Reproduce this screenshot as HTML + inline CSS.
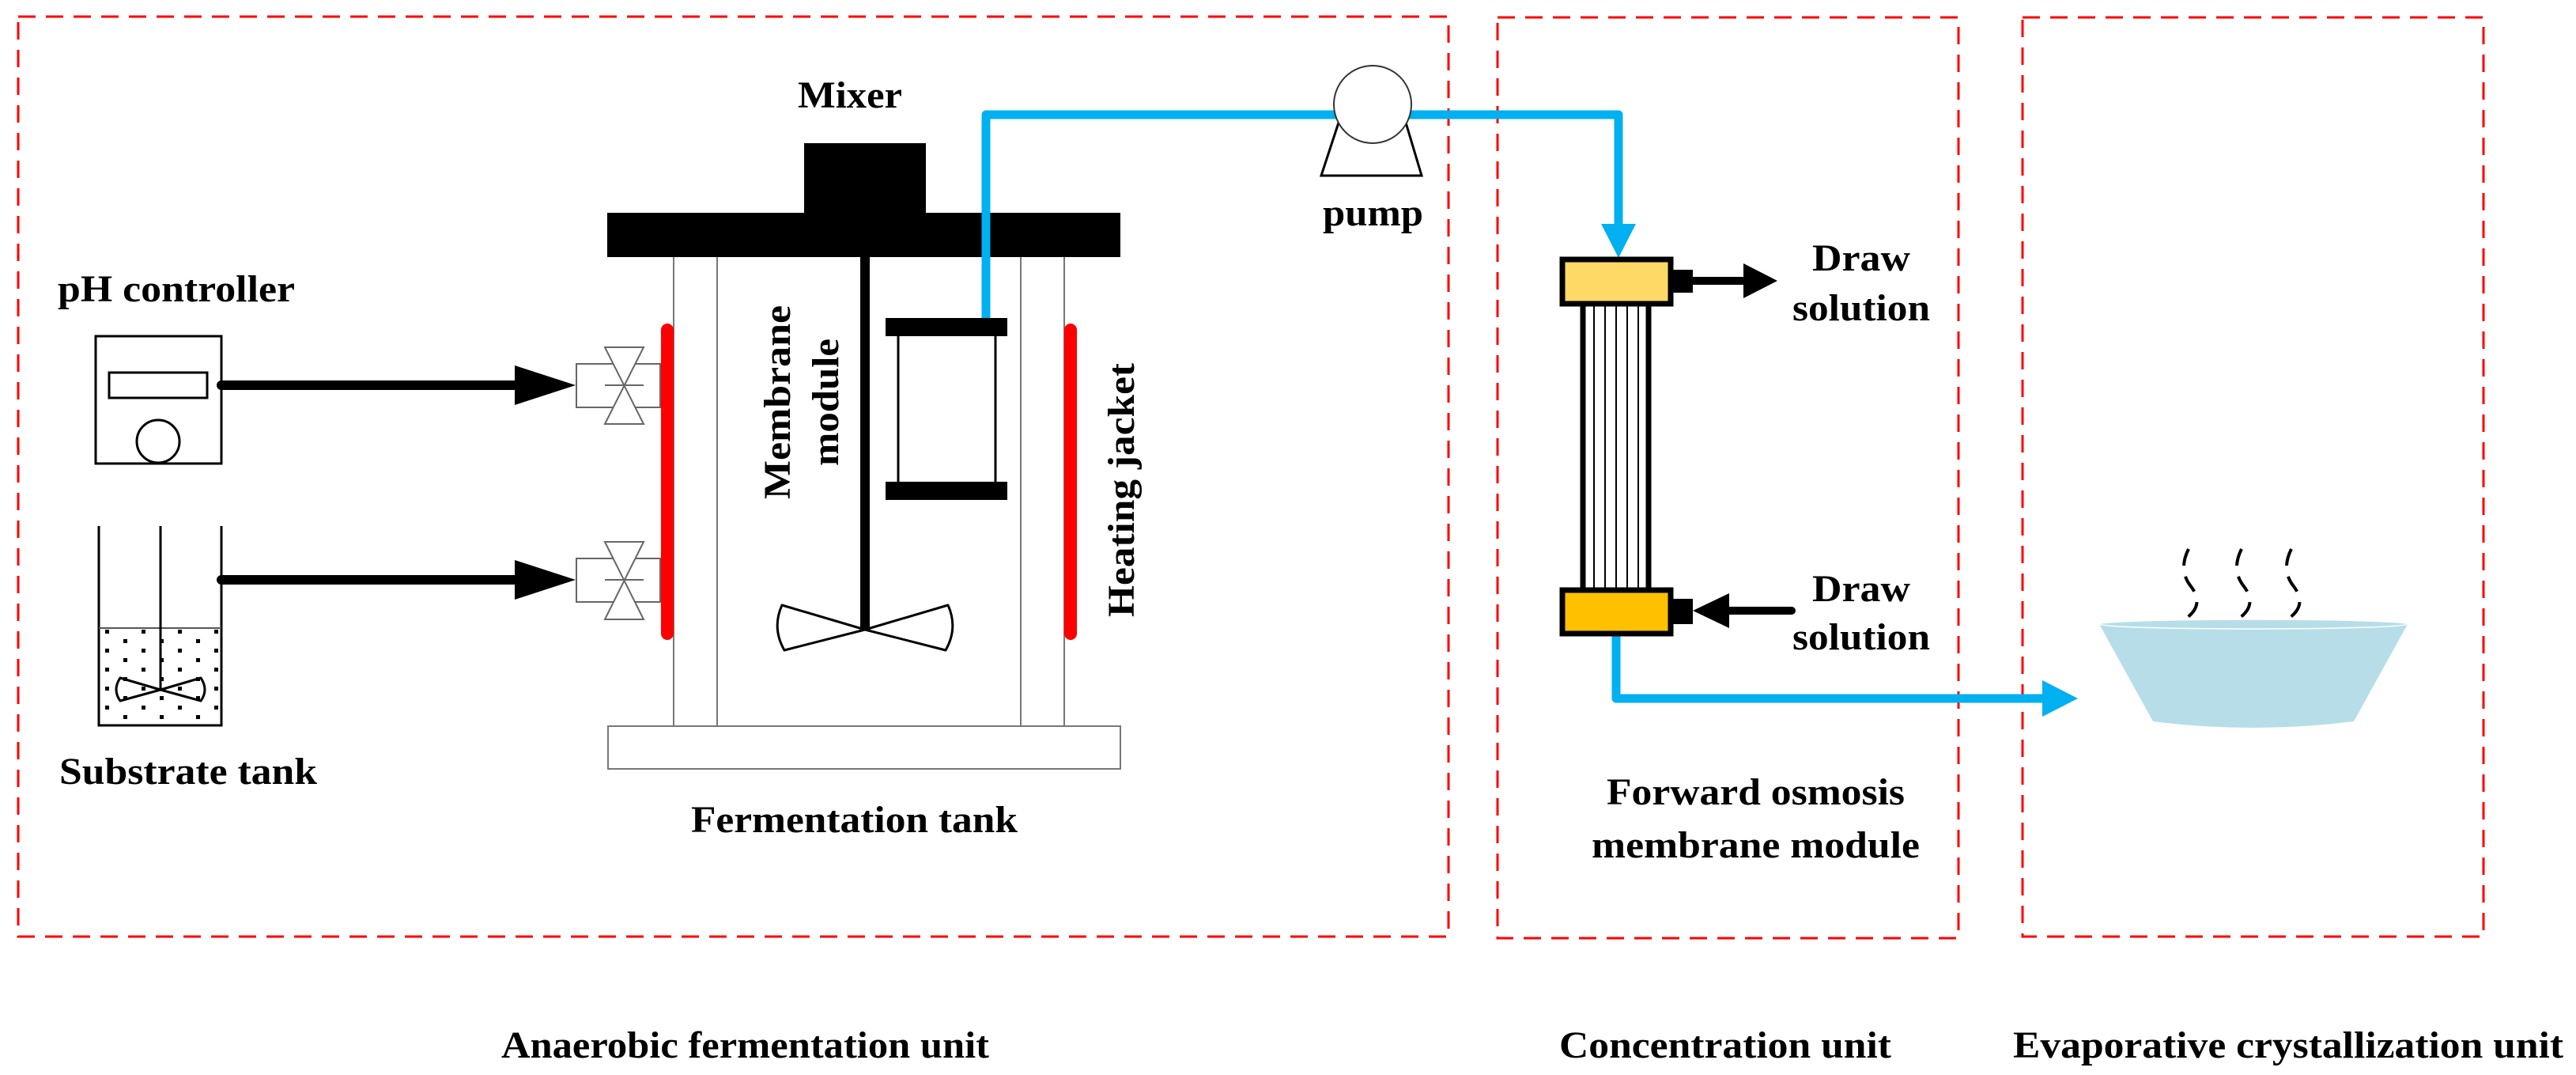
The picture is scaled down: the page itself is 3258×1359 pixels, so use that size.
<!DOCTYPE html>
<html><head><meta charset="utf-8"><style>html,body{margin:0;padding:0;background:#fff}svg{display:block}</style></head><body>
<svg width="3258" height="1359" viewBox="0 0 3258 1359" xmlns="http://www.w3.org/2000/svg" font-family="'Liberation Serif', serif" font-weight="bold">
<defs>
<pattern id="dots" x="125" y="794" width="46" height="24" patternUnits="userSpaceOnUse">
<rect x="8" y="2" width="5" height="5" fill="#000"/><rect x="31" y="14" width="5" height="5" fill="#000"/>
</pattern>
</defs>
<g fill="none" stroke="#FF0000" stroke-width="3" stroke-dasharray="22,13">
<rect x="23" y="21" width="1809" height="1163"/>
<rect x="1894" y="22" width="583" height="1164"/>
<rect x="2558" y="22" width="583" height="1162"/>
</g>
<!-- pH controller -->
<rect x="121" y="425" width="159" height="161" fill="none" stroke="#000" stroke-width="3"/>
<rect x="138" y="471" width="124" height="32" fill="none" stroke="#000" stroke-width="3"/>
<ellipse cx="200" cy="558" rx="27" ry="27" fill="none" stroke="#000" stroke-width="3"/>
<!-- substrate tank -->
<rect x="125" y="794" width="155" height="123" fill="url(#dots)"/>
<path d="M125 665 V917 H280 V665" fill="none" stroke="#000" stroke-width="3"/>
<line x1="125" y1="794" x2="280" y2="794" stroke="#555" stroke-width="2"/>
<line x1="203" y1="665" x2="203" y2="872" stroke="#000" stroke-width="3"/>
<path d="M203 872 L152 886 Q142 872 152 857 Z M203 872 L254 886 Q264 872 254 857 Z" fill="none" stroke="#000" stroke-width="3" stroke-linejoin="round"/>
<!-- arrows -->
<g fill="#000">
<line x1="280" y1="487" x2="660" y2="487" stroke="#000" stroke-width="12" stroke-linecap="round"/>
<polygon points="651,462 728,487 651,512"/>
<line x1="280" y1="733" x2="660" y2="733" stroke="#000" stroke-width="12" stroke-linecap="round"/>
<polygon points="651,708 728,733 651,758"/>
</g>
<!-- valves -->
<g fill="#fff" stroke="#666" stroke-width="2">
<rect x="729" y="460" width="106" height="55"/>
<polygon points="765,439 814,439 765,536 814,536"/>
<line x1="765" y1="487" x2="814" y2="487"/>
<rect x="729" y="706" width="106" height="55"/>
<polygon points="765,685 814,685 765,783 814,783"/>
<line x1="765" y1="733" x2="814" y2="733"/>
</g>
<!-- fermentation tank -->
<g fill="none" stroke="#777" stroke-width="2">
<line x1="852" y1="325" x2="852" y2="917"/>
<line x1="907" y1="325" x2="907" y2="917"/>
<line x1="1291" y1="325" x2="1291" y2="917"/>
<line x1="1346" y1="325" x2="1346" y2="917"/>
<rect x="769" y="918" width="648" height="54"/>
</g>
<rect x="836" y="409" width="16" height="400" rx="8" fill="#FF0000"/>
<rect x="1346" y="409" width="16" height="400" rx="8" fill="#FF0000"/>
<rect x="768" y="269" width="649" height="56" fill="#000"/>
<rect x="1017" y="181" width="154" height="90" fill="#000"/>
<line x1="1094" y1="325" x2="1094" y2="796" stroke="#000" stroke-width="12"/>
<path d="M1094 796 L992 822 Q976 794 989 765 Z M1094 796 L1196 822 Q1212 794 1199 765 Z" fill="none" stroke="#000" stroke-width="3" stroke-linejoin="round"/>
<rect x="1120" y="402" width="154" height="23" fill="#000"/>
<rect x="1120" y="609" width="154" height="23" fill="#000"/>
<line x1="1136" y1="425" x2="1136" y2="609" stroke="#000" stroke-width="3"/>
<line x1="1259" y1="425" x2="1259" y2="609" stroke="#000" stroke-width="3"/>
<!-- blue pipes -->
<g fill="none" stroke="#00B0F0" stroke-width="11" stroke-linejoin="round">
<polyline points="1247,402 1247,145 2047,145 2047,290"/>
<polyline points="2044,802 2044,883 2590,883"/>
</g>
<polygon points="2025,283 2069,283 2047,326" fill="#00B0F0"/>
<polygon points="2583,860 2628,883 2583,906" fill="#00B0F0"/>
<!-- pump -->
<polygon points="1693,155 1671,222 1798,222 1778,155" fill="#fff" stroke="#000" stroke-width="3"/>
<circle cx="1736" cy="132" r="49" fill="#fff" stroke="#333" stroke-width="2"/>
<!-- FO module -->
<line x1="2002" y1="384" x2="2002" y2="743" stroke="#000" stroke-width="7"/>
<line x1="2085" y1="384" x2="2085" y2="743" stroke="#000" stroke-width="7"/>
<g stroke="#000" stroke-width="2">
<line x1="2016" y1="384" x2="2016" y2="743"/><line x1="2030" y1="384" x2="2030" y2="743"/>
<line x1="2044" y1="384" x2="2044" y2="743"/><line x1="2058" y1="384" x2="2058" y2="743"/>
<line x1="2072" y1="384" x2="2072" y2="743"/>
</g>
<rect x="1976" y="328" width="137" height="56" fill="#FFD966" stroke="#000" stroke-width="7"/>
<rect x="1976" y="746" width="137" height="55" fill="#FFC000" stroke="#000" stroke-width="7"/>
<rect x="2116" y="341" width="25" height="29" fill="#000"/>
<rect x="2116" y="757" width="25" height="32" fill="#000"/>
<line x1="2141" y1="355" x2="2210" y2="355" stroke="#000" stroke-width="10"/>
<polygon points="2205,333 2248,355 2205,377" fill="#000"/>
<line x1="2180" y1="772" x2="2266" y2="772" stroke="#000" stroke-width="10" stroke-linecap="round"/>
<polygon points="2187,750 2141,772 2187,794" fill="#000"/>
<!-- bowl -->
<path d="M2655 789 L2723 912 Q2850 928 2977 912 L3045 789 Z" fill="#B7DEE8"/>
<ellipse cx="2850" cy="789" rx="195" ry="6" fill="#B7DEE8" stroke="#fff" stroke-width="1.5"/>
<g fill="none" stroke="#000" stroke-width="4" stroke-dasharray="22,14">
<path d="M2768 694 Q2755 720 2770 740 Q2790 765 2763 783"/>
<path d="M2835 694 Q2822 720 2837 740 Q2857 765 2830 783"/>
<path d="M2898 694 Q2885 720 2900 740 Q2920 765 2893 783"/>
</g>
<!-- text -->
<g font-size="48" fill="#000">
<text x="1009" y="136" textLength="132" lengthAdjust="spacingAndGlyphs">Mixer</text>
<text x="73" y="381" textLength="300" lengthAdjust="spacingAndGlyphs">pH controller</text>
<text x="75" y="991" textLength="326" lengthAdjust="spacingAndGlyphs">Substrate tank</text>
<text x="874" y="1052" textLength="413" lengthAdjust="spacingAndGlyphs">Fermentation tank</text>
<text x="1673" y="285" textLength="127" lengthAdjust="spacingAndGlyphs">pump</text>
<text x="2292" y="342" textLength="124" lengthAdjust="spacingAndGlyphs">Draw</text>
<text x="2267" y="405" textLength="174" lengthAdjust="spacingAndGlyphs">solution</text>
<text x="2292" y="760" textLength="124" lengthAdjust="spacingAndGlyphs">Draw</text>
<text x="2267" y="821" textLength="174" lengthAdjust="spacingAndGlyphs">solution</text>
<text x="2032" y="1017" textLength="377" lengthAdjust="spacingAndGlyphs">Forward osmosis</text>
<text x="2013" y="1084" textLength="415" lengthAdjust="spacingAndGlyphs">membrane module</text>
<text x="634" y="1337" textLength="617" lengthAdjust="spacingAndGlyphs">Anaerobic fermentation unit</text>
<text x="1972" y="1337" textLength="420" lengthAdjust="spacingAndGlyphs">Concentration unit</text>
<text x="2546" y="1337" textLength="696" lengthAdjust="spacingAndGlyphs">Evaporative crystallization unit</text>
<text transform="translate(999,631) rotate(-90)" x="0" y="0" textLength="245" lengthAdjust="spacingAndGlyphs">Membrane</text>
<text transform="translate(1060,589) rotate(-90)" x="0" y="0" textLength="161" lengthAdjust="spacingAndGlyphs">module</text>
<text transform="translate(1434,780) rotate(-90)" x="0" y="0" textLength="321" lengthAdjust="spacingAndGlyphs">Heating jacket</text>
</g>
</svg>
</body></html>
